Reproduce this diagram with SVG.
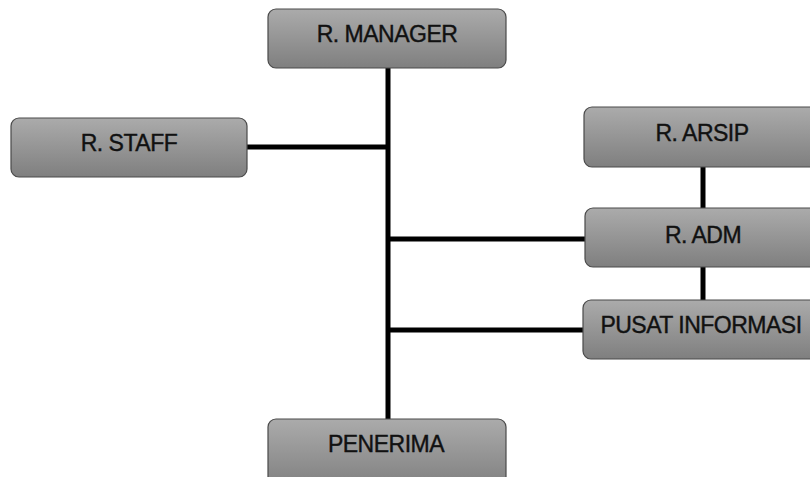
<svg xmlns="http://www.w3.org/2000/svg" width="810" height="477" viewBox="0 0 810 477">
<defs>
<linearGradient id="g" x1="0" y1="0" x2="0" y2="1">
<stop offset="0" stop-color="#ababab"/>
<stop offset="1" stop-color="#7f7f7f"/>
</linearGradient>
<style>
.box{fill:url(#g);stroke:#4a4a4a;stroke-width:1.2}
.t{font-family:"Liberation Sans",Arial,sans-serif;font-size:23px;fill:#111;text-anchor:middle;letter-spacing:-0.5px;stroke:#111;stroke-width:0.4}
.c{stroke:#000;stroke-width:5;fill:none}
</style>
</defs>
<rect width="810" height="477" fill="#fff"/>
<g id="connectors">
<line class="c" x1="388" y1="68" x2="388" y2="420"/>
<line class="c" x1="247" y1="147" x2="388" y2="147"/>
<line class="c" x1="388" y1="239" x2="585" y2="239"/>
<line class="c" x1="388" y1="330" x2="584" y2="330"/>
<line class="c" x1="703" y1="167" x2="703" y2="208"/>
<line class="c" x1="703" y1="267" x2="703" y2="300"/>
</g>
<g id="manager"><rect class="box" x="268" y="9" width="238" height="59" rx="8"/><text class="t" x="387" y="42">R. MANAGER</text></g>
<g id="staff"><rect class="box" x="11" y="118" width="236" height="59" rx="8"/><text class="t" x="129" y="151">R. STAFF</text></g>
<g id="arsip"><rect class="box" x="584" y="107" width="238" height="60" rx="8"/><text class="t" x="702" y="141">R. ARSIP</text></g>
<g id="adm"><rect class="box" x="585" y="208" width="238" height="59" rx="8"/><text class="t" x="703" y="243">R. ADM</text></g>
<g id="pusat"><rect class="box" x="583" y="300" width="240" height="59" rx="8"/><text class="t" x="701" y="333">PUSAT INFORMASI</text></g>
<g id="penerima"><rect class="box" x="268" y="419" width="238" height="70" rx="8"/><text class="t" x="386" y="452">PENERIMA</text></g>
</svg>
